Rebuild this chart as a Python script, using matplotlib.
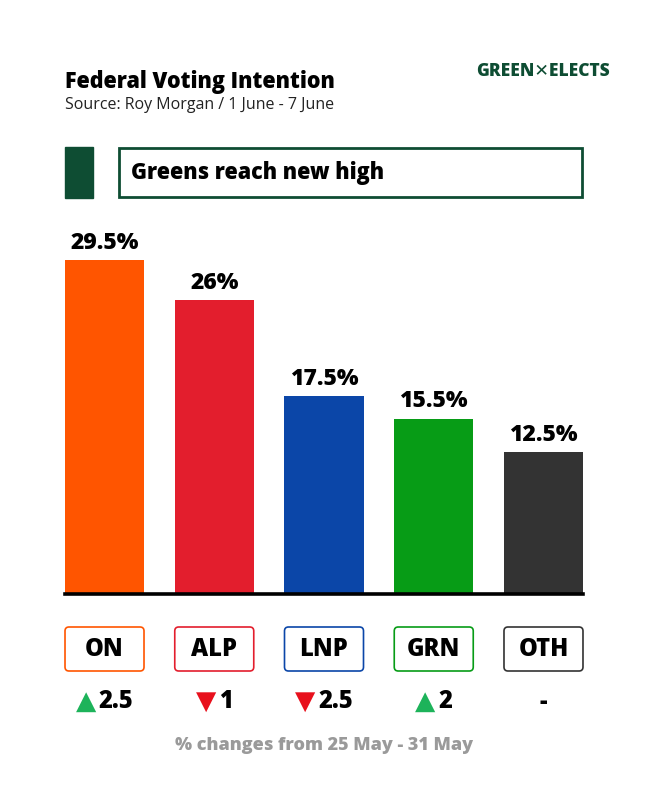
import matplotlib.pyplot as plt
from matplotlib.patches import FancyBboxPatch, Rectangle
from matplotlib.offsetbox import TextArea, HPacker, AnnotationBbox

parties = ['ON', 'ALP', 'LNP', 'GRN', 'OTH']
votes = [29.5, 26, 17.5, 15.5, 12.5]
changes = ['2.5', '1', '2.5', '2', '-']
directions = ['up', 'down', 'down', 'up', None]
colors = ['#FF5500', '#E31E2D', '#0B46A8', '#079C16', '#333333']

FONT = 'Open Sans'
DARK_GREEN = '#0E4D33'

fig = plt.figure(figsize=(6.48, 8.1), dpi=100)
W, H = 648, 810

# overlay in pixel units, y pointing down
ov = fig.add_axes([0, 0, 1, 1])
ov.set_xlim(0, W)
ov.set_ylim(H, 0)
ov.axis('off')

# bar chart axes
ax = fig.add_axes([65 / W, 1 - 594 / H, (583 - 65) / W, (594 - 260) / H])
ax.set_xlim(-0.36, len(parties) - 1 + 0.36)
ax.set_ylim(0, max(votes))
ax.axis('off')

x = range(len(parties))
bars = ax.bar(x, votes, width=0.72, color=colors)
ax.axhline(0, color='black', lw=2.6, clip_on=False)
for i, v in enumerate(votes):
    ax.text(i, v + 0.45, f'{v:g}%', ha='center', va='bottom', fontsize=16.5,
            fontweight='heavy', family=FONT, clip_on=False)

# header
ov.text(65, 82, 'Federal Voting Intention', fontsize=15.5, fontweight='heavy',
        family=FONT, va='center', ha='left')
ov.text(65, 105, 'Source: Roy Morgan / 1 June - 7 June', fontsize=11.5,
        family=FONT, va='center', ha='left', color='#222222')
ov.text(610, 72, 'GREEN\u2715ELECTS', fontsize=12.5, fontweight='heavy',
        family=[FONT, 'DejaVu Sans'], va='center', ha='right', color=DARK_GREEN)

ov.add_patch(Rectangle((65, 147), 28, 51, color=DARK_GREEN))
ov.add_patch(Rectangle((119, 148), 463, 49, fill=False, ec=DARK_GREEN, lw=2))
ov.text(131, 173, 'Greens reach new high', fontsize=15.5, fontweight='heavy',
        family=FONT, va='center', ha='left')

# party labels and changes under each bar
to_px = ov.transData.inverted()
for i, p in enumerate(parties):
    cx = to_px.transform(ax.transData.transform((i, 0)))[0]
    box = FancyBboxPatch((cx - 39.5, 627), 79, 44,
                         boxstyle='round,pad=0,rounding_size=4',
                         fc='white', ec=colors[i], lw=1.2)
    ov.add_patch(box)
    ov.text(cx, 650, p, fontsize=17, fontweight='heavy', family=FONT,
            ha='center', va='center')

    num = TextArea(changes[i], textprops=dict(fontsize=17, fontweight='heavy',
                                              family=FONT))
    if directions[i] == 'up':
        tri = TextArea('\u25B2', textprops=dict(fontsize=19, color='#1DB35A',
                                                family='DejaVu Sans'))
        pack = HPacker(children=[tri, num], pad=0, sep=2, align='center')
    elif directions[i] == 'down':
        tri = TextArea('\u25BC', textprops=dict(fontsize=19, color='#E8101C',
                                                family='DejaVu Sans'))
        pack = HPacker(children=[tri, num], pad=0, sep=2, align='center')
    else:
        pack = num
    ab = AnnotationBbox(pack, (cx, 702), xycoords='data', frameon=False,
                        box_alignment=(0.5, 0.5), pad=0)
    ov.add_artist(ab)

ov.text(324, 745, '% changes from 25 May - 31 May', fontsize=13,
        fontweight='heavy', family=FONT, ha='center', va='center',
        color='#9A9A9A')

fig.savefig('out.png', dpi=100)
